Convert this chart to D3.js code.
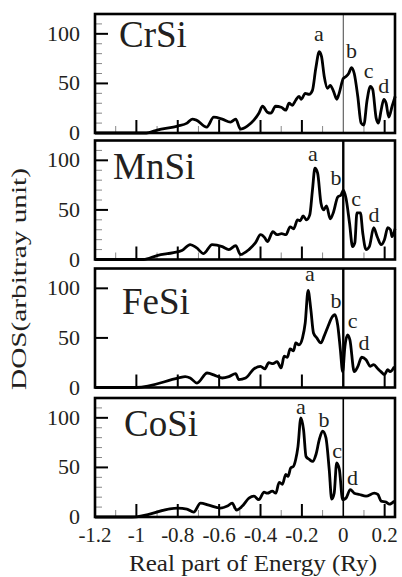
<!DOCTYPE html>
<html>
<head>
<meta charset="utf-8">
<script src="https://cdn.jsdelivr.net/npm/d3@7"></script>
<style>
  body { margin: 0; background: #fff; }
  svg { display: block; }
</style>
</head>
<body>
<div id="chart"></div>
<script>
// ---- data ----
const compounds = ["CrSi", "MnSi", "FeSi", "CoSi"];
const xTicks = [-1.2, -1, -0.8, -0.6, -0.4, -0.2, 0, 0.2];
const yTicks = [0, 50, 100];
const peakLetters = ["a", "b", "c", "d"];

const crsiE = [-1.2, -0.96, -0.94, -0.9, -0.8, -0.755, -0.73, -0.71, -0.66, -0.626, -0.585, -0.545, -0.52, -0.497, -0.464, -0.432, -0.408, -0.39, -0.367, -0.35, -0.327, -0.3, -0.278, -0.262, -0.246, -0.23, -0.214, -0.203, -0.184, -0.165, -0.149, -0.133, -0.116, -0.105, -0.092, -0.076, -0.063, -0.047, -0.031, -0.02, 0, 0.013, 0.026, 0.04, 0.053, 0.07, 0.086, 0.099, 0.115, 0.131, 0.142, 0.159, 0.17, 0.183, 0.196, 0.207, 0.22, 0.236, 0.251];
const crsiDos = [0, 0, 0.5, 3, 7, 10, 14, 13, 6, 16, 14, 11, 14, 4, 7, 13, 20, 27, 21, 20, 27, 26, 23, 30, 28, 33, 37, 34, 40, 39, 43, 65, 82, 77, 57, 45, 48, 42, 34, 40, 55, 57, 60, 66, 60, 37, 10, 8, 33, 47, 44, 15, 10, 23, 34, 30, 16, 27, 37];

const mnsiE = [-1.2, -0.966, -0.9, -0.82, -0.78, -0.74, -0.71, -0.675, -0.634, -0.585, -0.553, -0.52, -0.497, -0.456, -0.424, -0.4, -0.38, -0.367, -0.34, -0.32, -0.298, -0.277, -0.257, -0.24, -0.221, -0.208, -0.194, -0.178, -0.162, -0.149, -0.137, -0.124, -0.108, -0.095, -0.081, -0.063, -0.047, -0.027, -0.011, 0, 0.013, 0.03, 0.045, 0.056, 0.066, 0.083, 0.094, 0.11, 0.126, 0.147, 0.164, 0.183, 0.199, 0.215, 0.228, 0.236, 0.25];
const mnsiDos = [0, 0, 4, 7, 9, 15, 12, 6, 15, 13, 10, 14, 5, 10, 17, 25, 22, 18, 28, 25, 26, 25, 33, 31, 40, 39, 44, 40, 45, 70, 92, 87, 57, 50, 54, 41, 48, 63, 65, 70, 62, 37, 13, 17, 47, 47, 27, 10, 13, 32, 23, 15, 20, 32, 30, 23, 31];

const fesiE = [-1.2, -1.0, -0.796, -0.764, -0.74, -0.707, -0.658, -0.618, -0.585, -0.553, -0.52, -0.505, -0.472, -0.432, -0.4, -0.38, -0.36, -0.34, -0.32, -0.3, -0.286, -0.27, -0.257, -0.24, -0.23, -0.214, -0.197, -0.184, -0.17, -0.157, -0.144, -0.128, -0.108, -0.092, -0.073, -0.057, -0.04, -0.027, -0.014, -0.003, 0.008, 0.021, 0.032, 0.053, 0.07, 0.089, 0.11, 0.131, 0.147, 0.167, 0.182, 0.199, 0.215, 0.226, 0.247];
const fesiDos = [0, 0, 9.6, 11, 9.6, 4.5, 14.6, 12, 9.6, 11, 14, 8, 9.6, 18.7, 21.4, 18.7, 25, 24, 26, 19.7, 31.5, 30.5, 39, 37, 45, 43, 50, 65, 98, 79, 55, 50, 45, 52, 62, 70, 73.5, 63, 38, 16, 41.6, 53, 48, 16, 21, 30.5, 28, 21.4, 23, 19, 16, 13, 18, 16, 21];

const cosiE = [-1.2, -1.02, -0.8, -0.756, -0.723, -0.69, -0.65, -0.594, -0.56, -0.537, -0.516, -0.488, -0.456, -0.432, -0.408, -0.383, -0.367, -0.343, -0.326, -0.31, -0.294, -0.278, -0.267, -0.254, -0.241, -0.23, -0.219, -0.205, -0.192, -0.18, -0.164, -0.148, -0.132, -0.116, -0.1, -0.084, -0.068, -0.056, -0.044, -0.032, -0.019, -0.003, 0.013, 0.034, 0.053, 0.078, 0.11, 0.15, 0.167, 0.183, 0.207, 0.223, 0.247];
const cosiDos = [0, 0, 9, 8, 5, 14, 12, 9, 11, 14, 7, 11, 19, 21, 17.5, 25, 24, 26, 24, 35, 33, 43, 41, 49.5, 51, 58, 71, 100, 88, 61, 58, 56, 63, 78, 86.5, 80, 48, 18, 24, 54.5, 48, 17.5, 19, 27.6, 24, 22.7, 21, 24, 22.7, 16, 15, 13, 16];

const crsiPeakE = [-0.118, 0.04, 0.123, 0.196];
const crsiPeakDos = [93, 76, 55, 40];
const mnsiPeakE = [-0.147, -0.035, 0.062, 0.148];
const mnsiPeakDos = [99, 75, 54, 38];
const fesiPeakE = [-0.161, -0.035, 0.045, 0.1];
const fesiPeakDos = [107, 80, 60, 38];
const cosiPeakE = [-0.205, -0.093, -0.03, 0.045];
const cosiPeakDos = [104, 91, 59.6, 32.6];

const seriesE = [crsiE, mnsiE, fesiE, cosiE];
const seriesDos = [crsiDos, mnsiDos, fesiDos, cosiDos];
const peaksE = [crsiPeakE, mnsiPeakE, fesiPeakE, cosiPeakE];
const peaksDos = [crsiPeakDos, mnsiPeakDos, fesiPeakDos, cosiPeakDos];

// ---- layout ----
const width = 402, height = 577;
const left = 95, right = 395;
const panelTops = [14, 140.5, 268.5, 398];
const panelH = 119;
const nameOffset = [[24, 33], [18, 38], [27, 45], [29, 38]];
const zeroLineW = [1, 2.4, 2.4, 1.6];
const showMinor = [true, true, false, true];
const serif = "'Liberation Serif', 'Times New Roman', Times, serif";
const ink = "#231f20";

const svg = d3.select("#chart").append("svg")
    .attr("width", width)
    .attr("height", height)
    .attr("font-family", serif);

const x = d3.scaleLinear().domain([-1.2, 0.25]).range([left, right]);

function label(sel, size) {
    sel.attr("font-family", serif)
        .attr("font-size", size)
        .attr("fill", ink);
}

compounds.forEach((name, p) => {
    const top = panelTops[p];
    const y = d3.scaleLinear().domain([0, 120]).range([top + panelH, top]);
    const g = svg.append("g");

    // minor ticks
    if (showMinor[p]) {
        d3.range(10, 120, 10).filter(v => v % 50 !== 0).forEach(v => {
            g.append("line")
                .attr("x1", left).attr("x2", left + 7)
                .attr("y1", y(v)).attr("y2", y(v))
                .attr("stroke", "#888").attr("stroke-width", 1);
        });
        d3.range(-1.1, 0.25, 0.2).forEach(v => {
            g.append("line")
                .attr("x1", x(v)).attr("x2", x(v))
                .attr("y1", top + panelH).attr("y2", top + panelH - 7)
                .attr("stroke", "#888").attr("stroke-width", 1);
        });
    }

    // major ticks
    yTicks.filter(v => v > 0).forEach(v => {
        g.append("line")
            .attr("x1", left).attr("x2", left + 13)
            .attr("y1", y(v)).attr("y2", y(v))
            .attr("stroke", "#000").attr("stroke-width", 2);
    });
    xTicks.filter(v => v > -1.2 && v !== 0).forEach(v => {
        g.append("line")
            .attr("x1", x(v)).attr("x2", x(v))
            .attr("y1", top + panelH).attr("y2", top + panelH - 13)
            .attr("stroke", "#000").attr("stroke-width", 2);
    });

    // y tick labels
    yTicks.forEach(v => {
        g.append("text")
            .attr("x", 80)
            .attr("y", y(v) + 7)
            .attr("text-anchor", "end")
            .call(label, 22)
            .text(v);
    });

    // zero line
    g.append("line")
        .attr("x1", x(0)).attr("x2", x(0))
        .attr("y1", top).attr("y2", top + panelH)
        .attr("stroke", p === 0 ? "#444" : "#000")
        .attr("stroke-width", zeroLineW[p]);

    // DOS curve
    const pts = seriesE[p].map((e, i) => [e, seriesDos[p][i]]);
    const line = d3.line()
        .x(d => x(d[0]))
        .y(d => y(d[1]))
        .curve(d3.curveMonotoneX);
    g.append("path")
        .datum(pts)
        .attr("d", line)
        .attr("fill", "none")
        .attr("stroke", "#000")
        .attr("stroke-width", 2.8)
        .attr("stroke-linejoin", "round");

    // frame
    g.append("rect")
        .attr("x", left).attr("y", top)
        .attr("width", right - left).attr("height", panelH)
        .attr("fill", "none")
        .attr("stroke", "#000")
        .attr("stroke-width", 2.6);

    // compound name
    g.append("text")
        .attr("x", left + nameOffset[p][0])
        .attr("y", top + nameOffset[p][1])
        .call(label, 37)
        .text(name);

    // peak letters
    peakLetters.forEach((l, i) => {
        g.append("text")
            .attr("x", x(peaksE[p][i]))
            .attr("y", y(peaksDos[p][i]))
            .attr("text-anchor", "middle")
            .call(label, 22)
            .text(l);
    });
});

// x tick labels
const bottom = panelTops[3] + panelH;
svg.append("g").selectAll("text")
    .data(xTicks)
    .join("text")
    .attr("x", d => x(d))
    .attr("y", bottom + 25)
    .attr("text-anchor", "middle")
    .call(label, 21)
    .text(d => d);

// axis titles (the original glyphs are stretched along the baseline)
svg.append("text")
    .attr("x", 253)
    .attr("y", 571)
    .attr("text-anchor", "middle")
    .attr("textLength", 248)
    .attr("lengthAdjust", "spacingAndGlyphs")
    .call(label, 23)
    .text("Real part of Energy (Ry)");

svg.append("text")
    .attr("transform", "translate(26,279) rotate(-90)")
    .attr("text-anchor", "middle")
    .attr("textLength", 222)
    .attr("lengthAdjust", "spacingAndGlyphs")
    .call(label, 20)
    .text("DOS(arbitray unit)");
</script>
</body>
</html>
